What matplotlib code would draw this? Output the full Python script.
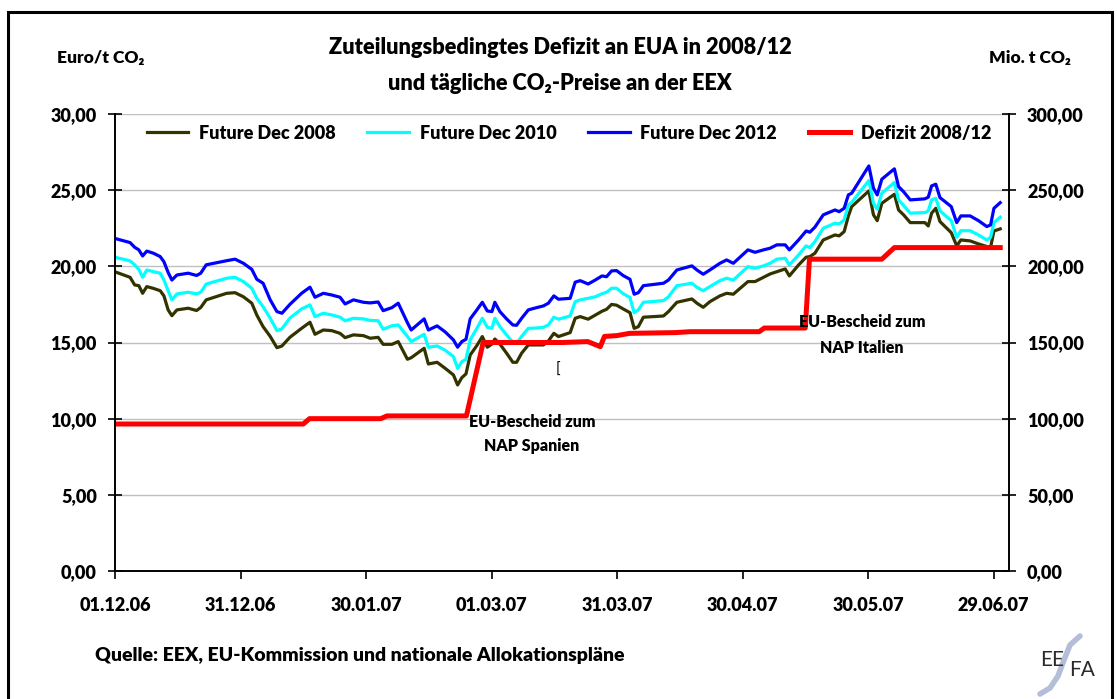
import matplotlib
matplotlib.use("Agg")
import matplotlib.pyplot as plt
import matplotlib.dates as mdates
from matplotlib.ticker import FuncFormatter
from matplotlib.lines import Line2D
from matplotlib.patches import Rectangle
import pandas as pd

plt.rcParams['font.family'] = ['Lato', 'DejaVu Sans']
plt.rcParams['font.weight'] = 'heavy'

# days since 01.12.06 for the price series (vertices)
price_days = [0.4, 3.6, 4.7, 5.7, 6.6, 7.6, 9.2, 10.8, 11.7, 12.7, 13.6, 14.8, 17.5, 19.5, 20.5, 21.8,
              26.7, 28.7, 30.7, 32.7, 33.9, 35.4, 37.1, 38.7, 39.9, 41.8, 44.6, 46.6, 47.8, 49.8, 51.8, 53.8,
              55.0, 57.0, 59.4, 61.0, 62.9, 64.1, 66.2, 67.7, 69.9, 70.8, 73.9, 74.9, 77.0, 78.9, 80.9, 81.9,
              82.9, 83.9, 84.9, 86.5, 87.8, 89.0, 90.1, 90.8, 92.0, 93.6, 95.1, 96.0, 97.2, 98.8, 100.8, 102.4,
              103.6, 104.9, 106.0, 108.8, 110.0, 111.2, 113.1, 114.8, 116.4, 117.5, 118.7, 119.9, 121.5, 123.1,
              124.1, 125.1, 126.3, 131.1, 132.3, 134.3, 137.9, 139.1, 140.6, 142.2, 144.6, 146.2, 147.8, 151.3,
              153.0, 155.0, 156.6, 158.2, 160.2, 161.2, 163.4, 165.2, 166.1, 167.3, 169.3, 172.1, 173.1, 174.3,
              175.3, 176.1, 180.2, 181.3, 182.2, 183.3, 186.3, 187.3, 188.5, 190.1, 193.6, 194.4, 195.2, 196.2,
              197.2, 199.9, 201.2, 202.2, 204.4, 206.4, 208.4, 209.3, 210.1, 211.6]

dec2012 = [21.80, 21.56, 21.25, 21.08, 20.68, 21.00, 20.86, 20.64, 20.30, 19.60, 19.10, 19.43, 19.55, 19.40, 19.55, 20.10,
           20.37, 20.47, 20.20, 19.80, 19.15, 18.89, 17.80, 17.03, 16.92, 17.50, 18.23, 18.63, 17.97, 18.23, 18.12, 17.97,
           17.53, 17.80, 17.64, 17.60, 17.66, 17.09, 17.29, 17.58, 16.30, 15.82, 16.55, 15.82, 16.09, 15.70, 15.17, 14.69,
           15.06, 15.21, 16.55, 17.14, 17.64, 17.07, 17.03, 17.64, 17.03, 16.55, 16.15, 16.13, 16.59, 17.14, 17.29, 17.40,
           17.58, 18.06, 17.84, 17.90, 18.96, 19.06, 18.84, 19.10, 19.37, 19.32, 19.70, 19.72, 19.39, 19.15,
           18.17, 18.27, 18.73, 18.89, 19.10, 19.76, 20.03, 19.76, 19.48, 19.76, 20.20, 20.42, 20.20, 21.08,
           20.92, 21.08, 21.19, 21.41, 21.41, 21.08, 21.73, 22.32, 22.24, 22.57, 23.38, 23.70, 23.59, 23.81,
           24.69, 24.80, 26.59, 25.13, 24.69, 25.72, 26.40, 25.23, 24.90, 24.36, 24.43, 24.54, 25.28, 25.39,
           24.51, 23.92, 22.87, 23.31, 23.31, 23.00, 22.61, 22.72, 23.81, 24.18]

dec2010 = [20.57, 20.36, 20.10, 19.80, 19.28, 19.76, 19.65, 19.55, 19.10, 18.40, 17.80, 18.19, 18.30, 18.19, 18.30, 18.84,
           19.22, 19.28, 19.00, 18.56, 17.90, 17.35, 16.60, 15.78, 15.90, 16.60, 17.20, 17.47, 16.70, 16.92, 16.81, 16.66,
           16.43, 16.59, 16.55, 16.45, 16.43, 15.87, 16.10, 16.15, 15.40, 15.06, 15.54, 14.69, 14.77, 14.50, 14.07, 13.31,
           13.74, 13.90, 15.17, 15.93, 16.59, 16.00, 15.93, 16.59, 16.04, 15.50, 15.02, 14.95, 15.40, 15.93, 15.95, 16.00,
           16.15, 16.66, 16.53, 16.74, 17.68, 17.80, 17.90, 18.00, 18.20, 18.30, 18.56, 18.56, 18.20, 17.95,
           16.96, 17.14, 17.64, 17.75, 18.00, 18.73, 18.89, 18.63, 18.40, 18.67, 19.06, 19.22, 19.10, 19.98,
           19.87, 20.03, 20.20, 20.47, 20.53, 20.09, 20.75, 21.34, 21.23, 21.62, 22.50, 22.83, 22.78, 23.05,
           24.03, 24.20, 25.63, 24.14, 23.75, 24.80, 25.50, 24.36, 24.00, 23.49, 23.53, 23.64, 24.36, 24.47,
           23.64, 23.00, 21.91, 22.34, 22.34, 22.06, 21.73, 21.91, 22.87, 23.23]

dec2008 = [19.60, 19.28, 18.78, 18.73, 18.23, 18.67, 18.55, 18.40, 18.06, 17.14, 16.76, 17.14, 17.25, 17.10, 17.30, 17.80,
           18.23, 18.27, 18.00, 17.58, 16.80, 16.04, 15.40, 14.66, 14.77, 15.34, 15.93, 16.33, 15.54, 15.82, 15.78, 15.60,
           15.32, 15.50, 15.45, 15.28, 15.34, 14.88, 14.88, 15.06, 13.90, 14.00, 14.62, 13.59, 13.70, 13.31, 12.87, 12.21,
           12.69, 12.94, 14.18, 14.80, 15.39, 14.69, 14.90, 15.23, 14.90, 14.30, 13.70, 13.70, 14.30, 14.84, 14.84, 14.84,
           15.10, 15.60, 15.39, 15.65, 16.59, 16.70, 16.53, 16.80, 17.05, 17.18, 17.50, 17.45, 17.20, 16.96,
           15.93, 16.04, 16.66, 16.74, 17.03, 17.64, 17.86, 17.58, 17.31, 17.68, 18.06, 18.23, 18.17, 19.00,
           19.00, 19.28, 19.50, 19.65, 19.83, 19.37, 20.09, 20.60, 20.64, 20.86, 21.73, 22.06, 22.00, 22.28,
           23.30, 23.92, 24.95, 23.38, 23.00, 24.14, 24.73, 23.70, 23.38, 22.87, 22.87, 22.65, 23.49, 23.81,
           22.94, 22.21, 21.34, 21.73, 21.67, 21.47, 21.30, 21.25, 22.32, 22.46]

# allocation deficit 2008/12, Mio. t CO2 (right axis)
deficit_days = [0, 45.0, 46.5, 63.5, 65.0, 84.0, 88.0, 107.0, 113.0, 116.0, 117.0, 119.9, 123.0, 134.0,
                137.5, 154.0, 155.2, 165.0, 166.0, 183.3, 186.3, 211.6]
deficit = [96.5, 96.5, 100.0, 100.0, 101.8, 101.8, 150.0, 150.0, 150.6, 147.3, 154.0, 154.5, 156.0, 156.5,
           157.1, 157.1, 159.5, 159.5, 204.7, 204.7, 212.3, 212.3]

start = pd.Timestamp("2006-12-01")
tick_days = [0, 30, 60, 90, 120, 150, 180, 210]

W, H = 1117, 699
fig = plt.figure(figsize=(W / 100, H / 100), dpi=100)


def px(x, y):
    return x / W, 1 - y / H


ax = fig.add_axes([115 / W, 1 - 571 / H, (1009 - 115) / W, (571 - 114) / H])
ax2 = ax.twinx()

x_price = start + pd.to_timedelta(price_days, unit="D")
x_def = start + pd.to_timedelta(deficit_days, unit="D")

ax.plot(x_price, dec2008, color="#333300", lw=2.3, label="Future Dec 2008")
ax.plot(x_price, dec2010, color="#00ffff", lw=2.3, label="Future Dec 2010")
ax.plot(x_price, dec2012, color="#0000ff", lw=2.3, label="Future Dec 2012")
ax2.plot(x_def, deficit, color="#ff0000", lw=3.6, label="Defizit 2008/12")

ax.set_ylim(0, 30)
ax2.set_ylim(0, 300)
ax.set_yticks(range(0, 31, 5))
ax2.set_yticks(range(0, 301, 50))
fmt = FuncFormatter(lambda v, p: f"{v:.2f}".replace(".", ","))
ax.yaxis.set_major_formatter(fmt)
ax2.yaxis.set_major_formatter(fmt)

ax.set_xlim(start, start + pd.Timedelta(days=213.7))
ax.set_xticks([start + pd.Timedelta(days=d) for d in tick_days])
ax.xaxis.set_major_formatter(mdates.DateFormatter("%d.%m.%y"))

ax.grid(axis="y", color="#c0c0c0", lw=1)
ax.set_axisbelow(True)
for a in (ax, ax2):
    a.spines["top"].set_visible(False)
    for s in ("left", "right", "bottom"):
        a.spines[s].set_linewidth(1.2)
ax.tick_params(axis="y", direction="inout", length=10, width=1.2, labelsize=13, pad=8)
ax2.tick_params(axis="y", direction="inout", length=10, width=1.2, labelsize=13, pad=8)
ax.tick_params(axis="x", direction="out", length=6, width=1.2, labelsize=13, pad=13)

handles = [Line2D([], [], color="#333300", lw=2.3), Line2D([], [], color="#00ffff", lw=2.3),
           Line2D([], [], color="#0000ff", lw=2.3), Line2D([], [], color="#ff0000", lw=3.6)]
labels = ["Future Dec 2008", "Future Dec 2010", "Future Dec 2012", "Defizit 2008/12"]
ax2.legend(handles, labels, ncol=4, loc="upper center", bbox_to_anchor=(0.508, 1.012), frameon=False,
           fontsize=13, handlelength=2.3, columnspacing=1.75, handletextpad=0.6)

# titles and axis units
fig.text(*px(560, 47), "Zuteilungsbedingtes Defizit an EUA in 2008/12", ha="center", va="center", fontsize=15.7)
fig.text(*px(560, 84), "und tägliche CO\u2082-Preise an der EEX", ha="center", va="center", fontsize=15.7)
fig.text(*px(57, 58), "Euro/t CO\u2082", ha="left", va="center", fontsize=12.5)
fig.text(*px(1071, 58), "Mio. t CO\u2082", ha="right", va="center", fontsize=12.5)

# annotations
fig.text(*px(532, 422), "EU-Bescheid zum", ha="center", va="center", fontsize=11.5)
fig.text(*px(532, 446), "NAP Spanien", ha="center", va="center", fontsize=11.5)
fig.text(*px(862, 322), "EU-Bescheid zum", ha="center", va="center", fontsize=11.5)
fig.text(*px(862, 348), "NAP Italien", ha="center", va="center", fontsize=11.5)
fig.text(*px(558, 370), "[", ha="center", va="center", fontsize=11, fontweight="normal")

fig.text(*px(95, 655), "Quelle: EEX, EU-Kommission und nationale Allokationspläne", ha="left", va="center", fontsize=14)

# EEFA logo (text approximation)
logo_curve = Line2D([1080 / W, 1070 / W, 1064 / W, 1058 / W, 1050 / W, 1040 / W],
                    [1 - 636 / H, 1 - 645 / H, 1 - 660 / H, 1 - 676 / H, 1 - 688 / H, 1 - 694 / H],
                    transform=fig.transFigure, color="#b4bed8", lw=4, solid_capstyle="round")
fig.add_artist(logo_curve)
fig.text(*px(1052, 660), "EE", ha="center", va="center", fontsize=15, color="#2a2a2a", fontweight="normal")
fig.text(*px(1082, 670), "FA", ha="center", va="center", fontsize=15, color="#2a2a2a", fontweight="normal")

# outer frame
fig.add_artist(Rectangle((8 / W, -0.01), (1112 - 8) / W, 1 - 12 / H + 0.01, transform=fig.transFigure,
                         fill=False, edgecolor="black", lw=2.2))

fig.savefig("out.png", dpi=100)
